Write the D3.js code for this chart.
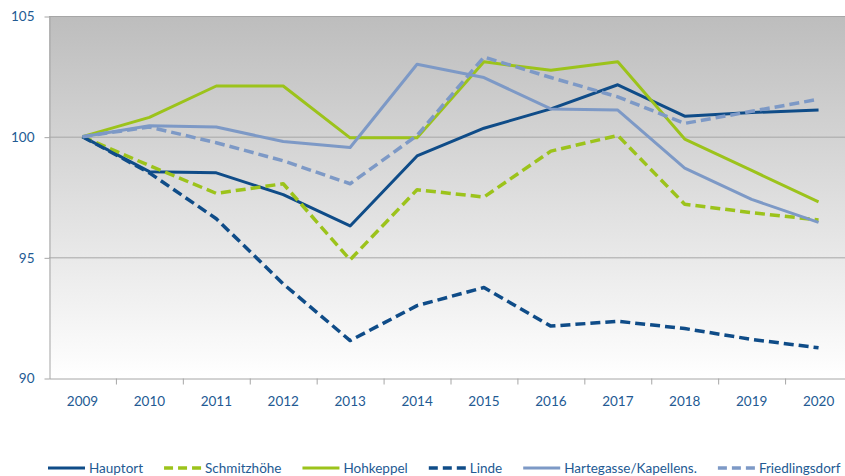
<!DOCTYPE html>
<meta charset="utf-8">
<style>
body { margin: 0; background: #fff; }
.axis text { font: 13.5px Lato, sans-serif; fill: #235a93; }
.legend text { font: 13.5px Lato, sans-serif; fill: #235a93; }
.line { fill: none; stroke-linejoin: round; }
</style>
<svg width="845" height="476"></svg>
<script src="https://d3js.org/d3.v7.min.js"></script>
<script>

var years = ["2009","2010","2011","2012","2013","2014","2015","2016","2017","2018","2019","2020"];
var yTicks = [90, 95, 100, 105];

var hauptort       = [100, 98.55, 98.5, 97.6, 96.3, 99.2, 100.35, 101.15, 102.15, 100.85, 101.0, 101.1];
var schmitzhoehe   = [100, 98.8, 97.65, 98.05, 94.9, 97.8, 97.5, 99.4, 100.05, 97.2, 96.85, 96.55];
var hohkeppel      = [100, 100.8, 102.1, 102.1, 99.95, 99.95, 103.1, 102.75, 103.1, 99.9, 98.6, 97.3];
var linde          = [100, 98.5, 96.6, 93.9, 91.55, 93.0, 93.75, 92.15, 92.35, 92.05, 91.6, 91.25];
var hartegasse     = [100, 100.45, 100.4, 99.8, 99.55, 103.0, 102.45, 101.15, 101.1, 98.7, 97.4, 96.45];
var friedlingsdorf = [100, 100.4, 99.75, 99.0, 98.05, 100.05, 103.3, 102.45, 101.65, 100.55, 101.05, 101.55];

var series = [
  {name: "Hauptort", values: hauptort, color: "#0f4c88", dash: null},
  {name: "Schmitzhöhe", values: schmitzhoehe, color: "#9cc31b", dash: "10,5"},
  {name: "Hohkeppel", values: hohkeppel, color: "#9cc31b", dash: null},
  {name: "Linde", values: linde, color: "#0f4c88", dash: "10,5"},
  {name: "Hartegasse/Kapellens.", values: hartegasse, color: "#7d99c6", dash: null},
  {name: "Friedlingsdorf", values: friedlingsdorf, color: "#7d99c6", dash: "10,5"}
];

var svg = d3.select("svg"),
    plotLeft = 49, plotRight = 852, plotTop = 16, plotBottom = 378;

var x = d3.scaleBand().domain(years).range([plotLeft, plotRight]);
var y = d3.scaleLinear().domain([90, 105]).range([plotBottom, plotTop]);

var defs = svg.append("defs");
var grad = defs.append("linearGradient")
    .attr("id", "bg")
    .attr("x1", 0).attr("y1", 0).attr("x2", 0).attr("y2", 1);
grad.append("stop").attr("offset", "0%").attr("stop-color", "#bdbdbd");
grad.append("stop").attr("offset", "100%").attr("stop-color", "#ffffff");

svg.append("rect")
    .attr("x", plotLeft).attr("y", plotTop)
    .attr("width", plotRight - plotLeft).attr("height", plotBottom - plotTop)
    .attr("fill", "url(#bg)");

// gridlines
svg.append("g").selectAll("line")
    .data(yTicks.filter(function(d) { return d > 90; }))
  .enter().append("line")
    .attr("x1", plotLeft).attr("x2", plotRight)
    .attr("y1", function(d) { return y(d) + 0.5; })
    .attr("y2", function(d) { return y(d) + 0.5; })
    .attr("stroke", "#a6a6a6")
    .attr("stroke-width", 1);

var yAxis = svg.append("g")
    .attr("class", "axis")
    .attr("transform", "translate(" + (plotLeft + 0.5) + ",0.5)")
    .call(d3.axisLeft(y).tickValues(yTicks).tickSize(5).tickPadding(10).tickSizeOuter(0));
yAxis.select(".domain").attr("stroke", "#a6a6a6");
yAxis.selectAll(".tick line").attr("stroke", "#a6a6a6");

var xAxis = svg.append("g")
    .attr("class", "axis")
    .attr("transform", "translate(0," + (plotBottom + 0.5) + ")")
    .call(d3.axisBottom(x).tickSize(6).tickPadding(12).tickSizeOuter(0));
xAxis.select(".domain").attr("stroke", "#a6a6a6");
xAxis.selectAll(".tick line")
    .attr("stroke", "#a6a6a6")
    .attr("transform", "translate(" + (x.bandwidth() / 2 + 0.5) + ",0)");

var line = d3.line()
    .x(function(d, i) { return x(years[i]) + x.bandwidth() / 2; })
    .y(function(d) { return y(d); });

svg.append("g").selectAll("path")
    .data(series)
  .enter().append("path")
    .attr("class", "line")
    .attr("stroke", function(d) { return d.color; })
    .attr("stroke-width", function(d) { return d.dash ? 3.5 : 3; })
    .attr("stroke-dasharray", function(d) { return d.dash; })
    .attr("d", function(d) { return line(d.values); });

// legend
var legend = svg.append("g").attr("class", "legend");
var lx = 48, ly = 468;
series.forEach(function(s) {
  legend.append("line")
      .attr("x1", lx).attr("x2", lx + 37)
      .attr("y1", ly).attr("y2", ly)
      .attr("stroke", s.color)
      .attr("stroke-width", s.dash ? 3.5 : 3)
      .attr("stroke-dasharray", s.dash ? "9,5" : null);
  var t = legend.append("text")
      .attr("x", lx + 41).attr("y", ly)
      .attr("dy", "0.35em")
      .text(s.name);
  lx += 41 + t.node().getComputedTextLength() + 21;
});

</script>
